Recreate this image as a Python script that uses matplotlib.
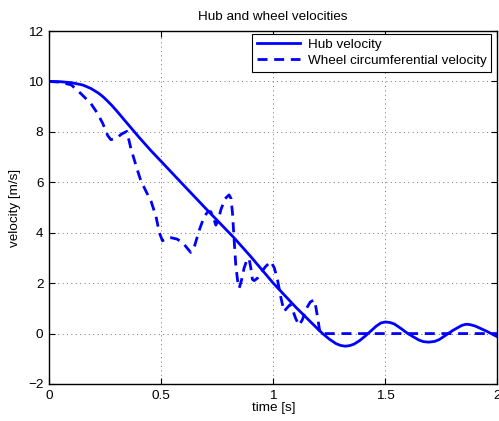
import numpy as np
import matplotlib
matplotlib.use('Agg')
import matplotlib.pyplot as plt

plt.rcParams['font.family'] = ['Liberation Sans', 'DejaVu Sans']

# hub velocity
t_hub = [0, 0.05, 0.1, 0.15, 0.187, 0.22, 0.24, 0.26, 0.28, 0.3, 0.32, 0.336, 0.36, 0.4,
         0.452, 0.5, 0.588, 0.7, 0.825, 0.9, 1.0, 1.1, 1.2, 1.22, 1.25, 1.28, 1.3,
         1.32, 1.34, 1.36, 1.385, 1.41, 1.46, 1.48, 1.5, 1.52, 1.54, 1.57, 1.6, 1.65,
         1.67, 1.694, 1.72, 1.74, 1.8, 1.84, 1.855, 1.865, 1.88, 1.9, 1.95, 2.0]
v_hub = [10, 9.99, 9.95, 9.86, 9.72, 9.54, 9.4, 9.23, 9.05, 8.85, 8.64, 8.47, 8.22, 7.8,
         7.28, 6.83, 6.0, 4.95, 3.8, 3.05, 2.0, 1.05, 0.17, 0.0, -0.22, -0.4, -0.47,
         -0.5, -0.48, -0.42, -0.28, -0.1, 0.3, 0.42, 0.46, 0.44, 0.38, 0.2, 0.0, -0.26,
         -0.32, -0.34, -0.31, -0.24, 0.12, 0.32, 0.36, 0.37, 0.35, 0.3, 0.1, -0.13]

# wheel circumferential velocity
t_wheel = [0, 0.05, 0.1, 0.143, 0.187, 0.215, 0.24, 0.262, 0.276, 0.3, 0.325, 0.347,
           0.365, 0.39, 0.41, 0.435, 0.455, 0.477, 0.492, 0.506, 0.525, 0.545, 0.57,
           0.595, 0.615, 0.632, 0.65, 0.67, 0.692, 0.71, 0.722, 0.735, 0.744, 0.755,
           0.766, 0.785, 0.803, 0.812, 0.818, 0.825, 0.833, 0.841, 0.848, 0.858, 0.87,
           0.882, 0.892, 0.9, 0.907, 0.915, 0.93, 0.944, 0.965, 0.989, 1.005, 1.019,
           1.033, 1.048, 1.06, 1.075, 1.09, 1.1, 1.115, 1.13, 1.145, 1.165, 1.182,
           1.19, 1.197, 1.209, 1.5, 2.0]
v_wheel = [10, 9.97, 9.86, 9.51, 9.12, 8.75, 8.33, 7.85, 7.69, 7.75, 7.92, 8.02,
           7.35, 6.6, 6.05, 5.6, 5.25, 4.65, 4.0, 3.68, 3.78, 3.8, 3.75,
           3.62, 3.4, 3.22, 3.5, 4.1, 4.64, 4.85, 4.83, 4.55, 4.3, 4.5,
           4.9, 5.35, 5.5, 5.35, 4.8, 3.8, 2.7, 2.1, 1.8, 2.1, 2.6,
           2.9, 2.98, 2.6, 2.15, 2.1, 2.2, 2.4, 2.65, 2.86, 2.6, 2.13,
           1.47, 0.88, 1.0, 1.15, 0.85, 0.6, 0.33, 0.55, 0.95, 1.25, 1.34,
           1.05, 0.68, 0.0, 0.0, 0.0]

fs = 9.7

fig = plt.figure(figsize=(4.99, 4.21), dpi=100)
ax = fig.add_axes([49/499, 1-384/421, (497.5-49)/499, (384-31)/421])

ax.plot(t_hub, v_hub, color='#0000ff', lw=2, label='Hub velocity')
ax.plot(t_wheel, v_wheel, color='#0000ff', lw=2, linestyle=(0, (3.6, 2.4)),
        label='Wheel circumferential velocity')

ax.set_xlim(0, 2)
ax.set_ylim(-2, 12)
ax.set_xticks([0, 0.5, 1, 1.5, 2])
ax.set_xticklabels(['0', '0.5', '1', '1.5', '2'])
ax.set_yticks(range(-2, 13, 2))
ax.set_yticklabels(['\u22122', '0', '2', '4', '6', '8', '10', '12'])
ax.tick_params(direction='in', labelsize=fs, length=4, width=0.8, top=True, right=True,
               pad=4)
ax.grid(True, color='0.45', linestyle=(0, (1, 3.5)), lw=0.7)
for s in ax.spines.values():
    s.set_linewidth(1.0)

ax.set_xlabel('time [s]', fontsize=fs, labelpad=0)
ax.set_ylabel('velocity [m/s]', fontsize=fs, labelpad=5)
ax.set_title('Hub and wheel velocities', fontsize=fs, pad=8)

leg = ax.legend(loc='upper right', bbox_to_anchor=(0.9855, 0.9915), fontsize=fs,
                handlelength=3.2, fancybox=False, framealpha=1, edgecolor='black',
                borderaxespad=0, borderpad=0.35, labelspacing=0.25, handletextpad=0.55)
leg.get_frame().set_linewidth(0.8)

fig.savefig('out.png', dpi=100)
